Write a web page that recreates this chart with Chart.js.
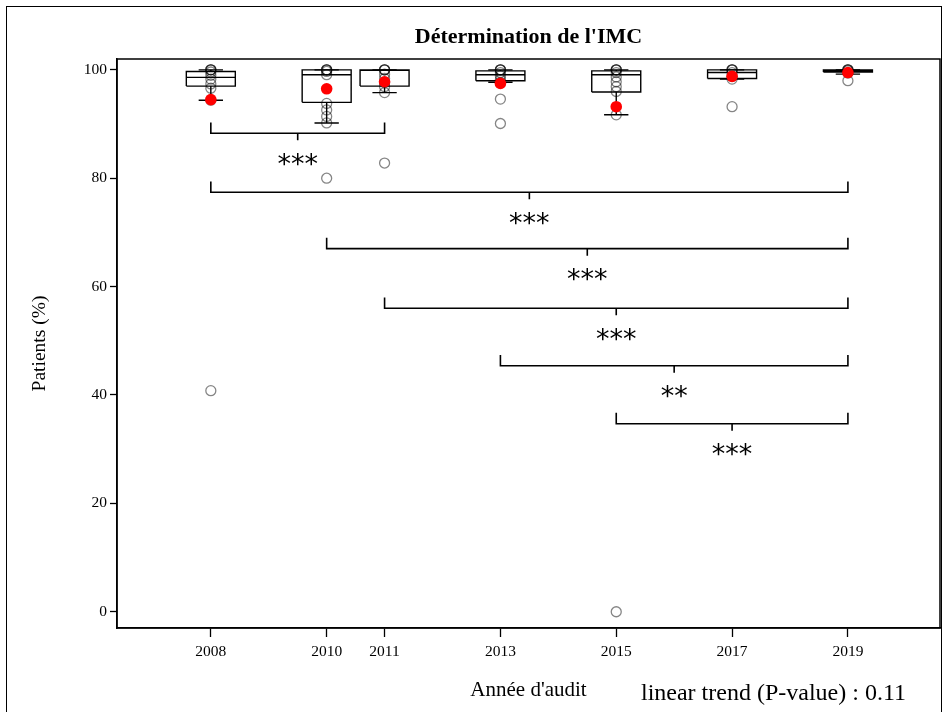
<!DOCTYPE html>
<html>
<head>
<meta charset="utf-8">
<script src="https://cdn.jsdelivr.net/npm/chart.js@4"></script>
<style>
  html, body { margin: 0; padding: 0; background: #fff; }
  #wrap { position: relative; width: 948px; height: 712px; overflow: hidden; }
  #frame { position: absolute; left: 6px; top: 6px; width: 936px; height: 760px; border: 1.5px solid #000; box-sizing: border-box; pointer-events: none; }
  canvas { position: absolute; left: 0; top: 0; }
</style>
</head>
<body>
<div id="wrap">
  <canvas id="imc-chart"></canvas>
  <div id="frame"></div>
</div>
<script>
// Audit years and box summaries (% of patients with BMI recorded, per site)
const auditYears = [2008, 2010, 2011, 2013, 2015, 2017, 2019];
const boxLow = [94.4, 90.2, 95.8, 97.7, 91.7, 98.3, 99.2];
const boxQ1 = [97.0, 94.0, 97.0, 98.0, 95.9, 98.4, 99.6];
const boxMedian = [98.6, 99.1, 99.9, 99.1, 99.1, 99.5, 99.8];
const boxQ3 = [99.7, 100, 100, 99.8, 99.8, 100, 100];
const boxHigh = [100, 100, 100, 100, 100, 100, 100];
const meanValues = [94.5, 96.5, 97.8, 97.5, 93.2, 98.8, 99.5];

// Individual sites
const sites2008 = [100, 100, 100, 99.6, 99.0, 98.3, 97.4, 96.6, 94.4, 40.8];
const sites2010 = [100, 100, 100, 99.7, 99.1, 93.8, 92.6, 91.4, 90.2, 80.0];
const sites2011 = [100, 100, 100, 99.2, 98.4, 97.6, 96.9, 95.8, 82.8];
const sites2013 = [100, 100, 100, 99.5, 98.9, 98.2, 97.7, 94.6, 90.1];
const sites2015 = [100, 100, 100, 99.5, 98.7, 97.8, 96.9, 96.0, 91.7, 0];
const sites2017 = [100, 100, 100, 99.5, 98.8, 98.3, 93.2];
const sites2019 = [100, 100, 100, 99.8, 99.4, 98.0];
const sitePoints = [sites2008, sites2010, sites2011, sites2013, sites2015, sites2017, sites2019];

// Pairwise comparisons against later audits
const pairFrom = [2008, 2008, 2010, 2011, 2013, 2015];
const pairTo = [2011, 2019, 2019, 2019, 2019, 2019];
const pairLevel = [88.3, 77.4, 67.0, 56.0, 45.4, 34.7];
const pairStars = ['***', '***', '***', '***', '**', '***'];

const yTicks = [0, 20, 40, 60, 80, 100];
const trendNote = 'linear trend (P-value) : 0.11';

const boxHalf = 0.423;
const capHalf = 0.21;
const bracketRise = 2.0;
const bracketDrop = 1.3;
const starDrop = 4.7;
const serif = '"Liberation Serif", "Times New Roman", serif';

const gap = x => ({ x, y: null });

function buildBoxOutline() {
    const pts = [];
    auditYears.forEach((yr, i) => {
        const l = yr - boxHalf, r = yr + boxHalf;
        pts.push({ x: l, y: boxQ1[i] }, { x: r, y: boxQ1[i] }, { x: r, y: boxQ3[i] },
                 { x: l, y: boxQ3[i] }, { x: l, y: boxQ1[i] }, gap(yr));
        pts.push({ x: l, y: boxMedian[i] }, { x: r, y: boxMedian[i] }, gap(yr));
    });
    return pts;
}

function buildWhiskers() {
    const pts = [];
    auditYears.forEach((yr, i) => {
        pts.push({ x: yr, y: boxQ3[i] }, { x: yr, y: boxHigh[i] }, gap(yr));
        pts.push({ x: yr, y: boxQ1[i] }, { x: yr, y: boxLow[i] }, gap(yr));
        pts.push({ x: yr - capHalf, y: boxHigh[i] }, { x: yr + capHalf, y: boxHigh[i] }, gap(yr));
        pts.push({ x: yr - capHalf, y: boxLow[i] }, { x: yr + capHalf, y: boxLow[i] }, gap(yr));
    });
    return pts;
}

function buildBrackets() {
    const pts = [];
    pairFrom.forEach((from, i) => {
        const to = pairTo[i], lvl = pairLevel[i], mid = (from + to) / 2;
        pts.push({ x: from, y: lvl + bracketRise }, { x: from, y: lvl }, { x: to, y: lvl },
                 { x: to, y: lvl + bracketRise }, gap(mid));
        pts.push({ x: mid, y: lvl }, { x: mid, y: lvl - bracketDrop }, gap(mid));
    });
    return pts;
}

const sitesData = sitePoints.flatMap((vals, i) => vals.map(v => ({ x: auditYears[i], y: v })));
const meanData = auditYears.map((yr, i) => ({ x: yr, y: meanValues[i] }));

// stars under each bracket, plus the trend note under the plot
const annotationText = {
    id: 'annotationText',
    afterDatasetsDraw(chart) {
        const { ctx, chartArea, scales: { x, y } } = chart;
        ctx.save();
        ctx.fillStyle = '#000';
        ctx.textAlign = 'center';
        ctx.textBaseline = 'alphabetic';
        ctx.font = '27px "DejaVu Sans"';
        pairStars.forEach((stars, i) => {
            const mid = (pairFrom[i] + pairTo[i]) / 2;
            ctx.fillText(stars, x.getPixelForValue(mid), y.getPixelForValue(pairLevel[i] - starDrop) + 14);
        });
        ctx.font = '24px ' + serif;
        ctx.textAlign = 'right';
        ctx.textBaseline = 'middle';
        ctx.fillText(trendNote, chartArea.right - 34, 694);
        ctx.restore();
    }
};

const plotFrame = {
    id: 'plotFrame',
    afterDraw(chart) {
        const { ctx, chartArea: a } = chart;
        ctx.save();
        ctx.strokeStyle = '#000';
        ctx.lineWidth = 1.5;
        ctx.strokeRect(a.left, a.top, a.right - a.left, a.bottom - a.top);
        ctx.restore();
    }
};

const lineSet = (label, data, width) => ({
    type: 'line', label, data, showLine: true, spanGaps: false,
    borderColor: '#000', borderWidth: width, pointRadius: 0, fill: false, order: 1
});

new Chart(document.getElementById('imc-chart'), {
    type: 'scatter',
    data: {
        datasets: [
            { label: 'Moyenne', data: meanData, pointRadius: 5.8, pointBackgroundColor: '#ff0000',
              pointBorderColor: '#ff0000', borderWidth: 0, order: 0 },
            lineSet('Boîtes', buildBoxOutline(), 1.4),
            lineSet('Moustaches', buildWhiskers(), 1.4),
            lineSet('Comparaisons', buildBrackets(), 1.6),
            { label: 'Sites', data: sitesData, pointRadius: 5, pointBorderWidth: 1.3,
              pointBorderColor: 'rgba(0,0,0,0.48)', pointBackgroundColor: 'rgba(0,0,0,0)', order: 2 }
        ]
    },
    options: {
        responsive: true,
        maintainAspectRatio: false,
        animation: false,
        events: [],
        layout: { padding: { left: 0, top: 0, right: 8, bottom: 0 } },
        plugins: {
            legend: { display: false },
            tooltip: { enabled: false },
            title: {
                display: true,
                fullSize: false,
                text: "Détermination de l'IMC",
                color: '#000',
                font: { family: serif, size: 22, weight: 'bold' },
                padding: { top: 24, bottom: 8.6 }
            }
        },
        scales: {
            x: {
                type: 'linear',
                min: 2006.38,
                max: 2020.59,
                afterBuildTicks: scale => { scale.ticks = auditYears.map(v => ({ value: v })); },
                afterFit: scale => { scale.height = 84; },
                grid: { drawOnChartArea: false, drawTicks: true, tickLength: 9, tickColor: '#000', tickWidth: 1.3 },
                border: { display: true, color: '#000', width: 1.5 },
                ticks: { color: '#000', padding: 6, maxRotation: 0, autoSkip: false,
                         font: { family: serif, size: 15.5 }, callback: v => String(v) },
                title: { display: true, text: "Année d'audit", color: '#000',
                         font: { family: serif, size: 21 }, padding: { top: 0, bottom: 9.4 } }
            },
            y: {
                type: 'linear',
                min: -3,
                max: 102,
                afterBuildTicks: scale => { scale.ticks = yTicks.map(v => ({ value: v })); },
                afterFit: scale => { scale.width = 117; },
                grid: { drawOnChartArea: false, drawTicks: true, tickLength: 7, tickColor: '#000', tickWidth: 1.3 },
                border: { display: true, color: '#000', width: 1.5 },
                ticks: { color: '#000', padding: 3, font: { family: serif, size: 15.5 } },
                title: { display: true, text: 'Patients (%)', color: '#000',
                         font: { family: serif, size: 19.5 }, padding: { top: 28, bottom: 0 } }
            }
        }
    },
    plugins: [annotationText, plotFrame]
});
</script>
</body>
</html>
